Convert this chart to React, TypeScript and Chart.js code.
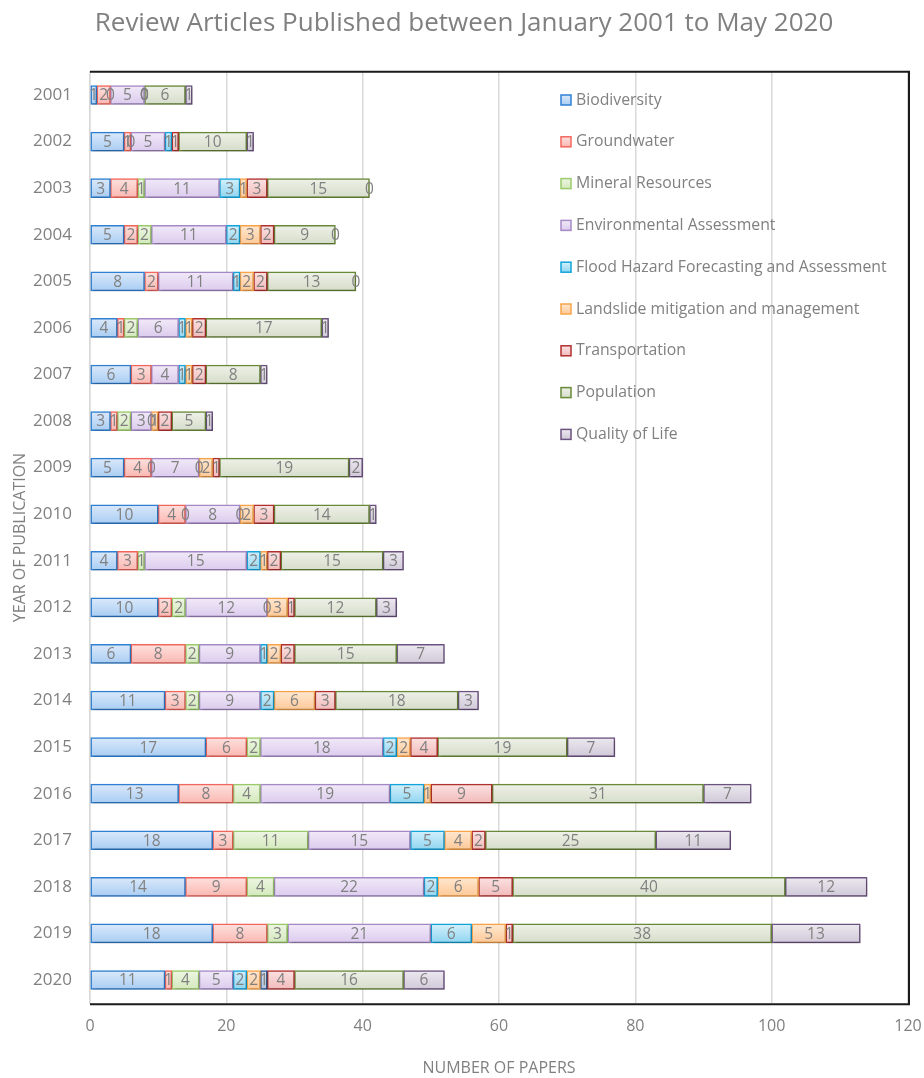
import React, { useEffect, useRef } from "react";
import { Chart, registerables } from "chart.js";

Chart.register(...registerables);

const years = ["2001","2002","2003","2004","2005","2006","2007","2008","2009","2010","2011","2012","2013","2014","2015","2016","2017","2018","2019","2020"];

const biodiversity = [1,5,3,5,8,4,6,3,5,10,4,10,6,11,17,13,18,14,18,11];
const groundwater = [2,1,4,2,2,1,3,1,4,4,3,2,8,3,6,8,3,9,8,1];
const mineralResources = [0,0,1,2,null,2,null,2,0,0,1,2,2,2,2,4,11,4,3,4];
const environmentalAssessment = [5,5,11,11,11,6,4,3,7,8,15,12,9,9,18,19,15,22,21,5];
const floodHazard = [0,1,3,2,1,1,1,0,0,0,2,0,1,2,2,5,5,2,6,2];
const landslide = [0,null,1,3,2,1,1,1,2,2,1,3,2,6,2,1,4,6,5,2];
const unlabelled = [null,null,null,null,null,null,null,null,null,null,null,null,null,null,null,null,null,null,null,1];
const transportation = [0,1,3,2,2,2,2,2,1,3,2,1,2,3,4,9,2,5,1,4];
const population = [6,10,15,9,13,17,8,5,19,14,15,12,15,18,19,31,25,40,38,16];
const qualityOfLife = [1,1,0,0,0,1,1,1,2,1,3,3,7,3,7,7,11,12,13,6];

const xTicks = [0, 20, 40, 60, 80, 100, 120];

const seriesNames = ["Biodiversity","Groundwater","Mineral Resources","Environmental Assessment","Flood Hazard Forecasting and Assessment","Landslide mitigation and management","","Transportation","Population","Quality of Life"];
const seriesData = [biodiversity, groundwater, mineralResources, environmentalAssessment, floodHazard, landslide, unlabelled, transportation, population, qualityOfLife];
const borderColors = ["#2f80d3","#f2675d","#9ccb6b","#a68ac7","#12a4db","#f9a448","#2e5f99","#b0302f","#6a8a38","#6d5381"];
const fillTop = ["#dbe9fa","#fde1de","#eef6e4","#f1eaf8","#d3f0fb","#ffe8d1","#d6e1ef","#fbe2e2","#eef1e8","#ece9ef"];
const fillBottom = ["#a9cdf3","#fbb7b1","#d3e9bb","#dccbee","#8fd5f1","#fdc897","#aebfd9","#f2baba","#d6ddca","#d0c8d8"];

const GRAY = "#808080";
const FONT = "'Open Sans', sans-serif";

const framePlugin = {
  id: "frame",
  afterDraw(chart: any) {
    const { ctx, chartArea } = chart;
    ctx.save();
    ctx.strokeStyle = "#1a1a1a";
    ctx.lineWidth = 2;
    ctx.beginPath();
    ctx.moveTo(chartArea.left, chartArea.top);
    ctx.lineTo(chartArea.right + 1, chartArea.top);
    ctx.lineTo(chartArea.right + 1, chartArea.bottom + 1);
    ctx.lineTo(chartArea.left, chartArea.bottom + 1);
    ctx.stroke();
    ctx.restore();
  },
};

const shadowPlugin = {
  id: "barShadow",
  beforeDatasetsDraw(chart: any) {
    const ctx = chart.ctx;
    ctx.save();
    ctx.shadowColor = "rgba(0,0,0,0.28)";
    ctx.shadowBlur = 3;
    ctx.shadowOffsetX = 1;
    ctx.shadowOffsetY = 2;
  },
  afterDatasetsDraw(chart: any) {
    chart.ctx.restore();
  },
};

const labelPlugin = {
  id: "valueLabels",
  afterDatasetsDraw(chart: any) {
    const ctx = chart.ctx;
    ctx.save();
    ctx.font = `15.5px ${FONT}`;
    ctx.fillStyle = GRAY;
    ctx.textAlign = "center";
    ctx.textBaseline = "middle";
    chart.data.datasets.forEach((ds: any, di: number) => {
      const meta = chart.getDatasetMeta(di);
      meta.data.forEach((el: any, i: number) => {
        const v = ds.data[i];
        if (v === null || v === undefined) return;
        const p = el.getCenterPoint();
        ctx.fillText(String(v), p.x, p.y + 1);
      });
    });
    ctx.restore();
  },
};

const legendPlugin = {
  id: "insideLegend",
  afterDraw(chart: any) {
    const ctx = chart.ctx;
    ctx.save();
    ctx.font = `15.8px ${FONT}`;
    ctx.textBaseline = "middle";
    ctx.textAlign = "left";
    let row = 0;
    seriesNames.forEach((name, i) => {
      if (!name) return;
      const y = 100 + row * 41.8;
      const x = 561;
      const g = ctx.createLinearGradient(0, y - 5, 0, y + 5);
      g.addColorStop(0, fillTop[i]);
      g.addColorStop(1, fillBottom[i]);
      ctx.fillStyle = g;
      ctx.fillRect(x, y - 5, 10, 10);
      ctx.strokeStyle = borderColors[i];
      ctx.lineWidth = 1.5;
      ctx.strokeRect(x, y - 5, 10, 10);
      ctx.fillStyle = GRAY;
      ctx.fillText(name, 576, y);
      row++;
    });
    ctx.restore();
  },
};

export default function App() {
  const canvasRef = useRef<HTMLCanvasElement | null>(null);

  useEffect(() => {
    if (!canvasRef.current) return;
    const datasets = seriesData.map((data, i) => ({
      label: seriesNames[i],
      data,
      borderColor: borderColors[i],
      borderWidth: 1.5,
      borderSkipped: false,
      barThickness: 19,
      backgroundColor: (c: any) => {
        const chart = c.chart;
        const y = chart.scales && chart.scales.y ? chart.scales.y.getPixelForValue(c.dataIndex) : 0;
        if (!isFinite(y)) return fillTop[i];
        const g = chart.ctx.createLinearGradient(0, y - 9.5, 0, y + 9.5);
        g.addColorStop(0, fillTop[i]);
        g.addColorStop(1, fillBottom[i]);
        return g;
      },
    }));

    const chart = new Chart(canvasRef.current, {
      type: "bar",
      data: { labels: years, datasets },
      plugins: [shadowPlugin, labelPlugin, framePlugin, legendPlugin],
      options: {
        indexAxis: "y",
        animation: false,
        responsive: false,
        maintainAspectRatio: false,
        layout: { padding: { left: 20, right: 16, top: 0, bottom: 0 } },
        plugins: {
          legend: { display: false },
          tooltip: { enabled: false },
          title: {
            display: true,
            text: "Review Articles Published between January 2001 to May 2020",
            color: GRAY,
            font: { family: FONT, size: 26, weight: "normal", lineHeight: 1.2 },
            padding: { top: 8.4, bottom: 32.1 },
          },
        },
        scales: {
          x: {
            stacked: true,
            min: 0,
            max: 120,
            afterBuildTicks: (scale: any) => {
              scale.ticks = xTicks.map((v) => ({ value: v }));
            },
            afterFit: (scale: any) => {
              scale.height = 74.7;
              scale.paddingRight = 0;
              scale.paddingLeft = 0;
            },
            ticks: {
              color: GRAY,
              font: { family: FONT, size: 16 },
              padding: 14,
              maxRotation: 0,
            },
            grid: {
              color: "#d9d9d9",
              lineWidth: 1.5,
              drawTicks: false,
            },
            border: { display: false },
            title: {
              display: true,
              text: "NUMBER OF PAPERS",
              color: GRAY,
              font: { family: FONT, size: 16, lineHeight: 1.2 },
              padding: { top: 0, bottom: 0.4 },
            },
          },
          y: {
            stacked: true,
            afterFit: (scale: any) => {
              scale.width = 70;
              scale.paddingTop = 0;
              scale.paddingBottom = 0;
            },
            ticks: {
              color: GRAY,
              font: { family: FONT, size: 17 },
              padding: 18,
            },
            grid: { display: false, drawTicks: false },
            border: { display: true, color: "#d9d9d9", width: 1.5 },
            title: {
              display: true,
              text: "YEAR OF PUBLICATION",
              color: GRAY,
              font: { family: FONT, size: 16, lineHeight: 1.2 },
              padding: { top: -9.6, bottom: 0 },
            },
          },
        },
      } as any,
    });
    return () => chart.destroy();
  }, []);

  return (
    <div style={{ position: "fixed", left: 0, top: 0, width: 924, height: 1078, background: "#ffffff" }}>
      <canvas ref={canvasRef} width={924} height={1078} style={{ display: "block", width: 924, height: 1078 }} />
    </div>
  );
}
